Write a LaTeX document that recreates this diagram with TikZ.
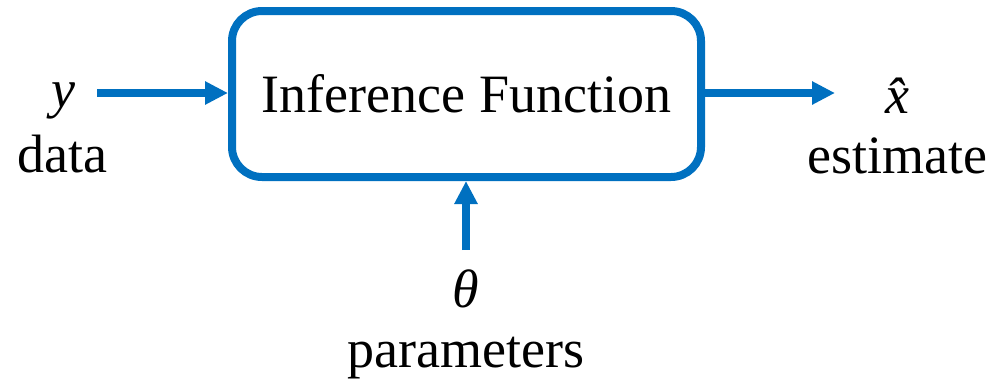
\documentclass[tikz,border=0pt]{standalone}
\usepackage{fontspec}
\setmainfont{Liberation Serif}
\usetikzlibrary{arrows.meta}
\definecolor{flowblue}{RGB}{0,112,192}
\tikzset{
  lbl/.style={font=\fontsize{54}{60}\selectfont, inner sep=0pt},
  sym/.style={font=\fontsize{54}{60}\selectfont\itshape, inner sep=0pt},
  flow/.style={draw=flowblue, line width=8pt, -{Triangle[length=23pt,width=22pt]}},
  fnbox/.style={draw=flowblue, line width=8pt, rounded corners=30pt,
    minimum width=469pt, minimum height=166pt, inner sep=0pt,
    font=\fontsize{54}{60}\selectfont}
}
\begin{document}
\begin{tikzpicture}[x=1pt, y=-1pt]
  \useasboundingbox (0,0) rectangle (992,381);
  % central block
  \node[fnbox] (box) at (466.5,94) {Inference Function};
  % free ends of the three connectors
  \coordinate (din) at (97,93);
  \coordinate (xout) at (835,93);
  \coordinate (pin) at (466,250);
  \draw[flow] (din) -- (din -| box.west);
  \draw[flow] (box.east |- xout) -- (xout);
  \draw[flow] (pin) -- (pin |- box.south);
  % input, output and parameter labels
  \node[sym] (ysym) at (63,101) {y};
  \node[lbl, anchor=base] (ytxt) at (62,172) {data};
  \node[sym] (xsym) at (897,96) {\^{x}};
  \node[lbl, anchor=base] (xtxt) at (897,173) {estimate};
  \node[sym] (tsym) at (466,289) {θ};
  \node[lbl, anchor=base] (ttxt) at (466,367) {parameters};
\end{tikzpicture}
\end{document}
